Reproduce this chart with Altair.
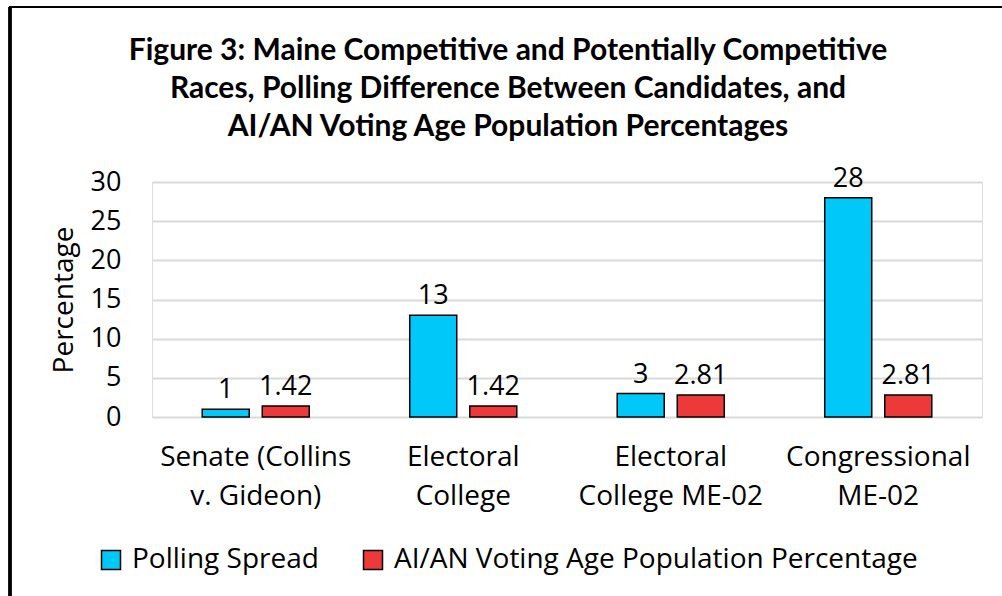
import altair as alt
import pandas as pd

# Races and the two measured series
races = ["Senate (Collins|v. Gideon)", "Electoral|College", "Electoral|College ME-02", "Congressional|ME-02"]
series = ["Polling Spread", "AI/AN Voting Age Population Percentage"]
polling_spread = [1, 13, 3, 28]
aian_vap_pct = [1.42, 1.42, 2.81, 2.81]
y_ticks = [0, 5, 10, 15, 20, 25, 30]
title_lines = [
    "Figure 3: Maine Competitive and Potentially Competitive",
    "Races, Polling Difference Between Candidates, and",
    "AI/AN Voting Age Population Percentages",
]

rows = []
for r, p, a in zip(races, polling_spread, aian_vap_pct):
    rows.append({"race": r, "series": series[0], "value": p, "label": f"{p:g}"})
    rows.append({"race": r, "series": series[1], "value": a, "label": f"{a:.2f}"})
df = pd.DataFrame(rows)

FONT = "Open Sans"
TITLE_FONT = "Lato"
colors = ["#00C8F8", "#EC3A3A"]

x_enc = alt.X(
    "race:N", sort=races, title=None,
    scale=alt.Scale(paddingInner=0.484, paddingOuter=0.242),
    axis=alt.Axis(
        labelExpr="split(datum.label, '|')", labelAngle=0, labelFontSize=28,
        labelFont=FONT, labelColor="#000000", labelPadding=26, labelLineHeight=39,
        labelBaseline="top", ticks=False, domain=False, grid=False, labelLimit=400,
    ),
)
xoff = alt.XOffset("series:N", sort=series, scale=alt.Scale(paddingInner=0.217, paddingOuter=0))
y_enc = alt.Y(
    "value:Q", title="Percentage",
    scale=alt.Scale(domain=[0, 30], nice=False),
    axis=alt.Axis(
        values=y_ticks, labelFontSize=27, labelFont=FONT, labelColor="#000000",
        labelPadding=31, labelOverlap=False, ticks=False, domain=False,
        gridColor="#D9D9D9", gridWidth=1.8, titleFont=FONT, titleFontSize=28,
        titleFontWeight="normal", titleColor="#000000", titlePadding=12,
    ),
)

bars = alt.Chart(df).mark_bar(stroke="#000000", strokeWidth=1.5).encode(
    x=x_enc,
    xOffset=xoff,
    y=y_enc,
    color=alt.Color(
        "series:N", sort=series, scale=alt.Scale(domain=series, range=colors),
        legend=alt.Legend(
            title=None, orient="none", direction="horizontal", legendX=-55, legendY=364,
            symbolType="square", symbolSize=361, symbolStrokeColor="#000000",
            symbolStrokeWidth=1.5, labelFont=FONT, labelFontSize=28,
            labelColor="#000000", columnPadding=40, labelOffset=7, labelLimit=800,
        ),
    ),
)

labels = alt.Chart(df).mark_text(
    baseline="bottom", dy=-5, fontSize=27, font=FONT, color="#000000"
).encode(
    x=x_enc,
    xOffset=xoff,
    y=y_enc,
    text="label:N",
)

# Three-line heading above the plot
heading = alt.Chart(pd.DataFrame({"t": ["\n".join(title_lines)]})).mark_text(
    font=TITLE_FONT, fontSize=30, fontWeight="bold", color="#000000",
    align="center", baseline="top", lineBreak="\n", lineHeight=38,
).encode(x=alt.value(356), y=alt.value(-146), text="t:N")

# Frame lines along the left and top edges of the figure
left_line = alt.Chart(df).mark_rule(color="#000000", strokeWidth=2.5).encode(
    x=alt.value(-142), y=alt.value(-175), y2=alt.value(420)
)
top_line = alt.Chart(df).mark_rule(color="#000000", strokeWidth=1.5).encode(
    x=alt.value(-143), x2=alt.value(860), y=alt.value(-175)
)

chart = alt.layer(bars, labels, heading, left_line, top_line).properties(
    width=830,
    height=235,
    autosize=alt.AutoSizeParams(type="none"),
    padding={"left": 152, "top": 182, "right": 20, "bottom": 179},
).configure_view(stroke=None).configure(background="#FFFFFF")

chart.save("out.html", embed_options={"renderer": "svg", "actions": False})
